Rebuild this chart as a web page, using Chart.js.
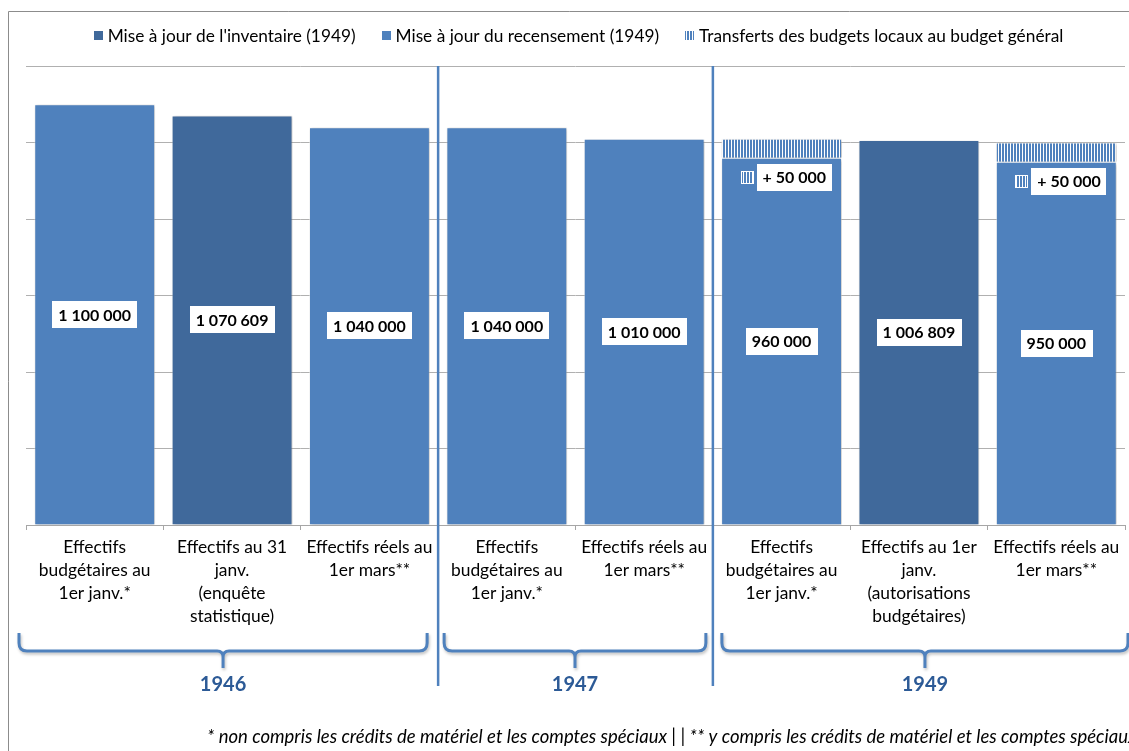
<!DOCTYPE html>
<html>
<head>
<meta charset="utf-8">
<script src="https://cdn.jsdelivr.net/npm/chart.js@4/dist/chart.umd.min.js"></script>
<style>
  html, body { margin: 0; padding: 0; background: #ffffff; }
  #wrap { width: 1129px; height: 751px; }
</style>
</head>
<body>
<div id="wrap"><canvas id="c" width="1129" height="751"></canvas></div>
<script>
// Category labels (one array of lines per bar)
const categories = [
  ['Effectifs', 'budgétaires au', '1er janv.*'],
  ['Effectifs au 31', 'janv.', '(enquête', 'statistique)'],
  ['Effectifs réels au', '1er mars**'],
  ['Effectifs', 'budgétaires au', '1er janv.*'],
  ['Effectifs réels au', '1er mars**'],
  ['Effectifs', 'budgétaires au', '1er janv.*'],
  ['Effectifs au 1er', 'janv.', '(autorisations', 'budgétaires)'],
  ['Effectifs réels au', '1er mars**']
];

// Series values
const inventaire  = [null, 1070609, null, null, null, null, 1006809, null];
const recensement = [1100000, null, 1040000, 1040000, 1010000, 960000, null, 950000];
const transferts  = [null, null, null, null, null, 50000, null, 50000];

const seriesNames = [
  "Mise à jour de l'inventaire (1949)",
  'Mise à jour du recensement (1949)',
  'Transferts des budgets locaux au budget général'
];

// Year groups and how many bars each one covers
const years = ['1946', '1947', '1949'];
const yearSpans = [3, 2, 3];

// Value axis
const yMax = 1200000;
const yStep = 200000;

const footnote = '* non compris les crédits de matériel et les comptes spéciaux | | ** y compris les crédits de matériel et les comptes spéciaux';

// ---- styling ----
const FONT = 'Lato, "Open Sans", sans-serif';
const BLUE = '#4F81BD';
const DARK = '#40699B';
const YEAR_COLOR = '#2C5A96';
const braceInsets = [[-7, -11], [6, -7], [9, 3]];

const canvas = document.getElementById('c');
const ctx = canvas.getContext('2d');

function makeHatch() {
  const p = document.createElement('canvas');
  p.width = 3; p.height = 3;
  const g = p.getContext('2d');
  g.fillStyle = '#ffffff';
  g.fillRect(0, 0, 3, 3);
  g.fillStyle = BLUE;
  g.fillRect(0, 0, 2, 3);
  return ctx.createPattern(p, 'repeat');
}
const HATCH = makeHatch();

const fmt = v => String(v).replace(/\B(?=(\d{3})+(?!\d))/g, ' ');

const barShadow = {
  id: 'barShadow',
  beforeDatasetsDraw(chart) {
    const c = chart.ctx;
    c.save();
    c.shadowColor = 'rgba(0,0,0,0.30)';
    c.shadowBlur = 3;
    c.shadowOffsetX = 1;
    c.shadowOffsetY = 1;
  },
  afterDatasetsDraw(chart) { chart.ctx.restore(); }
};

function boxLabel(c, text, cx, cy) {
  c.font = 'bold 16px ' + FONT;
  const w = c.measureText(text).width + 12;
  const h = 27;
  c.fillStyle = '#ffffff';
  c.fillRect(Math.round(cx - w / 2), Math.round(cy - h / 2), Math.round(w), h);
  c.fillStyle = '#000000';
  c.textAlign = 'center';
  c.textBaseline = 'middle';
  c.fillText(text, cx, cy + 1);
}

function drawBrace(c, x1, x2, yTop, yMid, yTip) {
  const r = 8, xm = (x1 + x2) / 2, rt = 6;
  c.beginPath();
  c.moveTo(x1, yTop);
  c.lineTo(x1, yMid - r);
  c.quadraticCurveTo(x1, yMid, x1 + r, yMid);
  c.lineTo(xm - rt, yMid);
  c.quadraticCurveTo(xm, yMid, xm, yMid + rt);
  c.lineTo(xm, yTip);
  c.moveTo(xm, yMid + rt);
  c.quadraticCurveTo(xm, yMid, xm + rt, yMid);
  c.lineTo(x2 - r, yMid);
  c.quadraticCurveTo(x2, yMid, x2, yMid - r);
  c.lineTo(x2, yTop);
  c.stroke();
}

const overlay = {
  id: 'overlay',
  afterDraw(chart) {
    const c = chart.ctx;
    const xs = chart.scales.x;
    const area = chart.chartArea;
    const half = (xs.getPixelForValue(1) - xs.getPixelForValue(0)) / 2;
    const edge = i => xs.getPixelForValue(i) - half;   // left boundary of bar slot i

    c.save();

    // outer frame
    c.strokeStyle = '#8C8C8C';
    c.lineWidth = 1;
    c.beginPath();
    c.moveTo(8.5, 760); c.lineTo(8.5, 11.5); c.lineTo(1140, 11.5);
    c.stroke();

    // value labels on the main segments
    [0, 1].forEach(di => {
      const meta = chart.getDatasetMeta(di);
      chart.data.datasets[di].data.forEach((v, i) => {
        if (v == null) return;
        const el = meta.data[i];
        boxLabel(c, fmt(v), el.x, (el.y + el.base) / 2);
      });
    });

    // transfer labels with their key
    const tMeta = chart.getDatasetMeta(2);
    transferts.forEach((v, i) => {
      if (v == null) return;
      const el = tMeta.data[i];
      const text = '+ ' + fmt(v);
      c.font = 'bold 16px ' + FONT;
      const w = c.measureText(text).width + 12;
      const right = el.x + el.width / 2 - 10;
      const cy = el.base + 19.5;
      c.fillStyle = '#ffffff';
      c.fillRect(Math.round(right - w), Math.round(cy - 13.5), Math.round(w), 27);
      c.fillStyle = '#000000';
      c.textAlign = 'center';
      c.textBaseline = 'middle';
      c.fillText(text, right - w / 2, cy + 1);
      const kx = Math.round(right - w - 15), ky = Math.round(cy - 5.5);
      c.fillStyle = '#ffffff';
      c.fillRect(kx - 1, ky - 1, 13, 13);
      c.fillStyle = HATCH;
      c.fillRect(kx, ky, 11, 11);
    });

    // vertical separators between year groups
    c.strokeStyle = BLUE;
    c.lineWidth = 2.5;
    let start = 0;
    yearSpans.forEach((span, g) => {
      if (g > 0) {
        const x = edge(start);
        c.beginPath();
        c.moveTo(x, area.top);
        c.lineTo(x, 686);
        c.stroke();
      }
      start += span;
    });

    // braces and year labels
    start = 0;
    yearSpans.forEach((span, g) => {
      const x1 = edge(start) + braceInsets[g][0];
      const x2 = edge(start + span) + braceInsets[g][1];
      c.save();
      c.shadowColor = 'rgba(0,0,0,0.25)';
      c.shadowBlur = 3;
      c.shadowOffsetX = 1;
      c.shadowOffsetY = 2;
      c.strokeStyle = BLUE;
      c.lineWidth = 3;
      c.lineJoin = 'round';
      drawBrace(c, x1, x2, 633, 651, 668);
      c.restore();
      c.fillStyle = YEAR_COLOR;
      c.font = 'bold 20px ' + FONT;
      c.textAlign = 'center';
      c.textBaseline = 'middle';
      c.fillText(years[g], (x1 + x2) / 2, 685);
      start += span;
    });

    // footnote
    c.fillStyle = '#000000';
    c.font = 'italic 18.5px ' + FONT;
    c.textAlign = 'left';
    c.textBaseline = 'middle';
    c.fillText(footnote, 207, 737);

    // legend
    c.font = '17.3px ' + FONT;
    const items = chart.data.datasets.map(d => ({ label: d.label, fill: d.backgroundColor }));
    const box = 9, gapBox = 5, gapItem = 26;
    const widths = items.map(it => box + gapBox + c.measureText(it.label).width);
    const total = widths.reduce((a, b) => a + b, 0) + gapItem * (items.length - 1);
    let x = (area.left + area.right) / 2 - total / 2 + 3;
    const ly = 36;
    items.forEach((it, k) => {
      c.fillStyle = it.fill;
      c.fillRect(Math.round(x), ly - 5, box, box);
      c.fillStyle = '#000000';
      c.textAlign = 'left';
      c.textBaseline = 'middle';
      c.fillText(it.label, x + box + gapBox, ly);
      x += widths[k] + gapItem;
    });

    c.restore();
  }
};

new Chart(canvas, {
  type: 'bar',
  data: {
    labels: categories,
    datasets: [
      { label: seriesNames[0], data: inventaire, backgroundColor: DARK },
      { label: seriesNames[1], data: recensement, backgroundColor: BLUE },
      { label: seriesNames[2], data: transferts, backgroundColor: HATCH }
    ].map(d => Object.assign(d, {
      borderColor: 'rgba(255,255,255,0.45)',
      borderWidth: 1,
      barPercentage: 0.88,
      categoryPercentage: 1.0
    }))
  },
  options: {
    responsive: false,
    devicePixelRatio: 1,
    animation: false,
    layout: { padding: { top: 66, right: 4, left: 0, bottom: 0 } },
    plugins: {
      legend: { display: false },
      tooltip: { enabled: false }
    },
    scales: {
      x: {
        stacked: true,
        grid: { display: true, drawOnChartArea: false, drawTicks: true, tickLength: 5, color: '#A6A6A6', offset: true },
        border: { display: true, color: '#A6A6A6', width: 1 },
        ticks: {
          color: '#000000',
          font: { family: FONT, size: 17.4, lineHeight: 23 / 17.4 },
          padding: 6,
          maxRotation: 0,
          minRotation: 0,
          autoSkip: false
        },
        afterFit(scale) { scale.height = 751 - 525; }
      },
      y: {
        stacked: true,
        min: 0,
        max: yMax,
        ticks: { display: false, stepSize: yStep },
        grid: { color: '#B0B0B0', drawTicks: false },
        border: { display: false },
        afterFit(scale) { scale.width = 26; }
      }
    }
  },
  plugins: [barShadow, overlay]
});
</script>
</body>
</html>
